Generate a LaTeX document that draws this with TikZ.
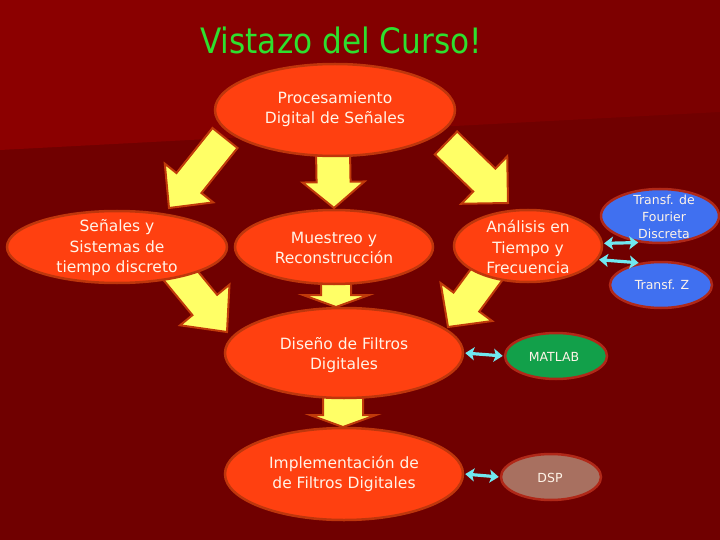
\documentclass[tikz,border=0pt]{standalone}
\usepackage{fontspec}
\setmainfont{DejaVu Sans}
\usetikzlibrary{calc,arrows.meta,shapes.geometric}
\definecolor{bgtopl}{HTML}{8C0000}
\definecolor{bgtopr}{HTML}{7A0000}
\definecolor{bglow}{HTML}{700000}
\definecolor{mainfill}{HTML}{FF4010}
\definecolor{mainedge}{HTML}{BE360C}
\definecolor{yfill}{HTML}{FFFF66}
\definecolor{yedge}{HTML}{C03A0A}
\definecolor{bluefill}{HTML}{4070F0}
\definecolor{blueedge}{HTML}{B02818}
\definecolor{greenfill}{HTML}{12A04A}
\definecolor{brownfill}{HTML}{A87060}
\definecolor{cyanc}{HTML}{70E8F0}
\definecolor{titlec}{HTML}{2EE02E}
\definecolor{txtc}{HTML}{FFF4E8}
\newcommand{\blockarr}[5]{% tail, tip, shaft half, head half, head length
  \coordinate (bh) at ($(#2)!#5pt!(#1)$);
  \filldraw[yarr] ($(#1)!#3pt!90:(#2)$) -- ($(bh)!#3pt!-90:(#1)$) -- ($(bh)!#4pt!-90:(#1)$) -- (#2)
     -- ($(bh)!#4pt!90:(#1)$) -- ($(bh)!#3pt!90:(#1)$) -- ($(#1)!#3pt!-90:(#2)$) -- cycle;
}
\begin{document}
\begin{tikzpicture}[x=1pt,y=-1pt,
  mainell/.style={ellipse, draw=mainedge, line width=2.5pt, fill=mainfill, inner sep=0pt},
  smallell/.style={ellipse, draw=blueedge, line width=2.5pt, inner sep=0pt},
  txt/.style={text=txtc, align=center, font=\fontsize{15.5}{20.5}\selectfont},
  stxt/.style={text=txtc, align=center, font=\fontsize{12.5}{17}\selectfont},
  yarr/.style={fill=yfill, draw=yedge, line width=2pt, line join=miter},
  cyarr/.style={draw=cyanc, line width=3.2pt, {Stealth[length=9pt,width=13pt,inset=2pt]}-{Stealth[length=9pt,width=13pt,inset=2pt]}, shorten <=1pt, shorten >=1pt}
]
\useasboundingbox (0,0) rectangle (720,540);
\fill[bglow] (0,0) rectangle (720,540);
\shade[left color=bgtopl, right color=bgtopr] (0,0) -- (720,0) -- (720,112) -- (0,150) -- cycle;

% title
\node[text=titlec, font=\fontsize{35}{40}\selectfont] (ttl) at (341,40) {\scalebox{0.89}[1]{Vistazo del Curso!}};

% block arrows (coordinates)
\coordinate (a1t) at (225,138); \coordinate (a1p) at (169,208);
\coordinate (a2t) at (333,150); \coordinate (a2p) at (334,208);
\coordinate (a3t) at (446,143); \coordinate (a3p) at (508,203);
\coordinate (a4t) at (336,275); \coordinate (a4p) at (336,307);
\coordinate (a5t) at (343,395); \coordinate (a5p) at (343,427);
\coordinate (a6t) at (176,270); \coordinate (a6p) at (227,332);
\coordinate (a7t) at (490,270); \coordinate (a7p) at (448,327);
\blockarr{a1t}{a1p}{16}{31}{32}
\blockarr{a2t}{a2p}{17}{31}{26}
\blockarr{a3t}{a3p}{16}{33}{33}
\blockarr{a4t}{a4p}{15}{33}{12}
\blockarr{a5t}{a5p}{20}{33}{12}
\blockarr{a6t}{a6p}{16}{32}{35}
\blockarr{a7t}{a7p}{16}{32}{31}

% main ellipses
\node[mainell, minimum width=240pt, minimum height=92pt] (pds) at (335,110) {};
\node[txt] (pdst) at (335,109) {Procesamiento\\Digital de Señales};
\node[mainell, minimum width=220pt, minimum height=72pt] (sen) at (117,247) {};
\node[txt] (sent) at (117,248) {Señales y\\Sistemas de\\tiempo discreto};
\node[mainell, minimum width=198pt, minimum height=74pt] (mue) at (334,247) {};
\node[txt] (muet) at (334,248) {Muestreo y\\Reconstrucción};
\node[mainell, minimum width=148pt, minimum height=72pt] (ana) at (528,246) {};
\node[txt] (anat) at (528,247) {Análisis en\\Tiempo y\\Frecuencia};
\node[mainell, minimum width=238pt, minimum height=90pt] (dis) at (344,353) {};
\node[txt] (dist) at (344,355) {Diseño de Filtros\\Digitales};
\node[mainell, minimum width=238pt, minimum height=92pt] (imp) at (344,474) {};
\node[txt] (impt) at (344,474) {Implementación de\\de Filtros Digitales};

% small ellipses
\node[smallell, fill=bluefill, minimum width=118pt, minimum height=54pt] (dft) at (660,216) {};
\node[stxt] (dftt) at (664,217) {Transf. de\\Fourier\\Discreta};
\node[smallell, fill=bluefill, minimum width=102pt, minimum height=46pt] (tz) at (661,285) {};
\node[stxt] (tzt) at (662,285) {Transf. Z};
\node[smallell, fill=greenfill, minimum width=102pt, minimum height=46pt] (mat) at (556,356) {};
\node[stxt] (matt) at (554,357) {MATLAB};
\node[smallell, fill=brownfill, minimum width=100pt, minimum height=46pt] (dsp) at (551,477) {};
\node[stxt] (dspt) at (550,478) {DSP};

% cyan double arrows
\draw[cyarr] (dis.east) -- (mat.west);
\draw[cyarr] (imp.east) -- (dsp.west);
\draw[cyarr] (ana.2) -- (dft.-128);
\draw[cyarr] (ana.-11) -- (tz.134);
\end{tikzpicture}
\end{document}
